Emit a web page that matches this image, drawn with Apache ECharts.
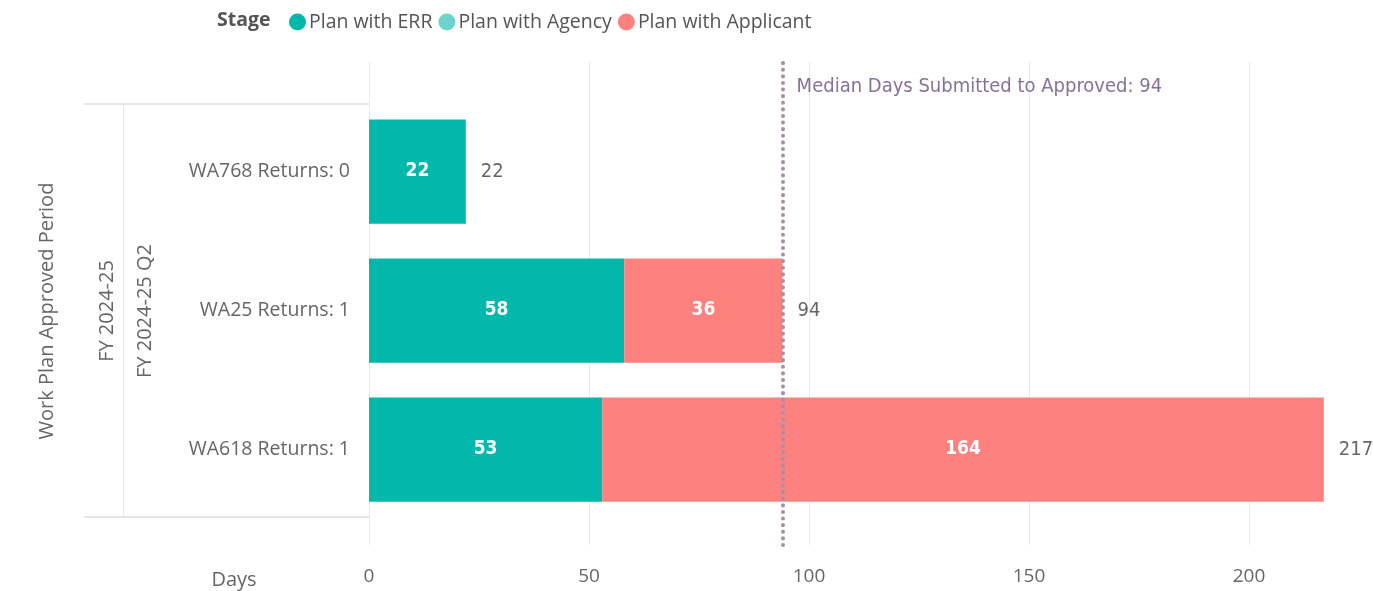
<!DOCTYPE html>
<html>
<head>
<meta charset="utf-8">
<script src="https://cdn.jsdelivr.net/npm/echarts@6/dist/echarts.min.js"></script>
<style>
html,body{margin:0;padding:0;background:#fff;}
#chart{width:1373px;height:591px;}
</style>
</head>
<body>
<div id="chart"></div>
<script>
// ---- data ----
const categories = ['WA768 Returns: 0', 'WA25 Returns: 1', 'WA618 Returns: 1'];
const stageNames = ['Plan with ERR', 'Plan with Agency', 'Plan with Applicant'];
const planWithERR = [22, 58, 53];
const planWithAgency = [0, 0, 0];
const planWithApplicant = [0, 36, 164];
const xTicks = [0, 50, 100, 150, 200];
const medianDays = 94;
const hierarchyLevel1 = 'FY 2024-25';
const hierarchyLevel2 = 'FY 2024-25 Q2';
const yAxisTitle = 'Work Plan Approved Period';
const xAxisTitle = 'Days';
const legendTitle = 'Stage';

const totals = categories.map((c, i) => planWithERR[i] + planWithAgency[i] + planWithApplicant[i]);

const FONT = '"Open Sans", "Noto Sans", sans-serif';
const NUMFONT = '"DejaVu Sans Condensed", "DejaVu Sans", sans-serif';
const AXIS_MAX = 225;
const GRID_L = 369, GRID_R = 14;

const chart = echarts.init(document.getElementById('chart'));

const barLabelInside = {
  show: true, position: 'inside', color: '#fff', fontWeight: 'bold', fontSize: 19, fontFamily: NUMFONT,
  formatter: p => (p.value ? String(p.value) : '')
};

const option = {
  animation: false,
  backgroundColor: '#fff',
  legend: {
    data: stageNames,
    left: 284, top: 7,
    icon: 'circle', itemWidth: 17, itemHeight: 17, itemGap: 6,
    textStyle: { color: '#555', fontSize: 19.5, fontFamily: FONT, padding: [0, 0, 0, -2] },
    selectedMode: false
  },
  grid: [
    { left: GRID_L, right: GRID_R, top: 62, bottom: 46 },
    { left: GRID_L, right: GRID_R, top: 102, bottom: 72 }
  ],
  xAxis: [
    {
      gridIndex: 0, type: 'value', min: 0, max: AXIS_MAX, interval: 50,
      axisLine: { show: false }, axisTick: { show: false },
      splitLine: { show: true, showMaxLine: false, lineStyle: { color: '#e9e9e9', width: 1 } },
      axisLabel: {
        color: '#666', fontSize: 19, fontFamily: FONT, margin: 22, showMaxLabel: false,
        formatter: v => (xTicks.indexOf(v) >= 0 ? String(v) : '')
      }
    },
    { gridIndex: 1, type: 'value', min: 0, max: AXIS_MAX, show: false }
  ],
  yAxis: [
    { gridIndex: 0, type: 'value', min: 0, max: 1, show: false },
    {
      gridIndex: 1, type: 'category', inverse: true, data: categories,
      axisLine: { show: false }, axisTick: { show: false }, splitLine: { show: false },
      axisLabel: { color: '#666', fontSize: 19.5, fontFamily: FONT, margin: 19 }
    }
  ],
  series: [
    {
      name: 'median', type: 'scatter', xAxisIndex: 0, yAxisIndex: 0,
      data: [[medianDays, 0.948]], symbolSize: 0, silent: true,
      label: {
        show: true, position: 'right', distance: 14,
        color: '#6a4c7e', fontSize: 20, fontFamily: NUMFONT,
        formatter: () => 'Median Days Submitted to Approved: ' + medianDays
      },
      markLine: {
        silent: true, symbol: 'none', label: { show: false },
        lineStyle: { color: '#a88fa8', width: 4, type: [0.1, 6.5], cap: 'round' },
        data: [{ xAxis: medianDays }]
      },
      z: 5
    },
    {
      name: stageNames[0], type: 'bar', stack: 'days', xAxisIndex: 1, yAxisIndex: 1,
      data: planWithERR, barCategoryGap: '25%',
      itemStyle: { color: '#01B8AA' }, label: barLabelInside
    },
    {
      name: stageNames[1], type: 'bar', stack: 'days', xAxisIndex: 1, yAxisIndex: 1,
      data: planWithAgency,
      itemStyle: { color: '#6CD5CB' }, label: barLabelInside
    },
    {
      name: stageNames[2], type: 'bar', stack: 'days', xAxisIndex: 1, yAxisIndex: 1,
      data: planWithApplicant,
      itemStyle: { color: '#FD817E' }, label: barLabelInside
    },
    {
      name: 'Total', type: 'bar', stack: 'days', xAxisIndex: 1, yAxisIndex: 1,
      data: categories.map(() => 0), silent: true,
      itemStyle: { color: 'transparent' },
      label: {
        show: true, position: 'right', distance: 15, color: '#666', fontSize: 20, fontFamily: NUMFONT,
        formatter: p => String(totals[p.dataIndex])
      }
    }
  ],
  graphic: [
    { type: 'text', left: 217, top: 10, style: { text: legendTitle, fill: '#555', font: 'bold 19.5px ' + FONT } },
    { type: 'line', shape: { x1: 84, y1: 104, x2: 369, y2: 104 }, style: { stroke: '#e6e6e6', lineWidth: 2 } },
    { type: 'line', shape: { x1: 84, y1: 517, x2: 369, y2: 517 }, style: { stroke: '#e6e6e6', lineWidth: 2 } },
    { type: 'line', shape: { x1: 123.5, y1: 104, x2: 123.5, y2: 517 }, style: { stroke: '#e6e6e6', lineWidth: 1 } },
    { type: 'text', x: 47, y: 311, rotation: Math.PI / 2,
      style: { text: yAxisTitle, fill: '#666', font: '20px ' + FONT, align: 'center', verticalAlign: 'middle' } },
    { type: 'text', x: 107, y: 311, rotation: Math.PI / 2,
      style: { text: hierarchyLevel1, fill: '#666', font: '20px ' + FONT, align: 'center', verticalAlign: 'middle' } },
    { type: 'text', x: 145, y: 311, rotation: Math.PI / 2,
      style: { text: hierarchyLevel2, fill: '#666', font: '20px ' + FONT, align: 'center', verticalAlign: 'middle' } },
    { type: 'text', x: 234, y: 580,
      style: { text: xAxisTitle, fill: '#666', font: '20px ' + FONT, align: 'center', verticalAlign: 'middle' } }
  ]
};
chart.setOption(option);
</script>
</body>
</html>
